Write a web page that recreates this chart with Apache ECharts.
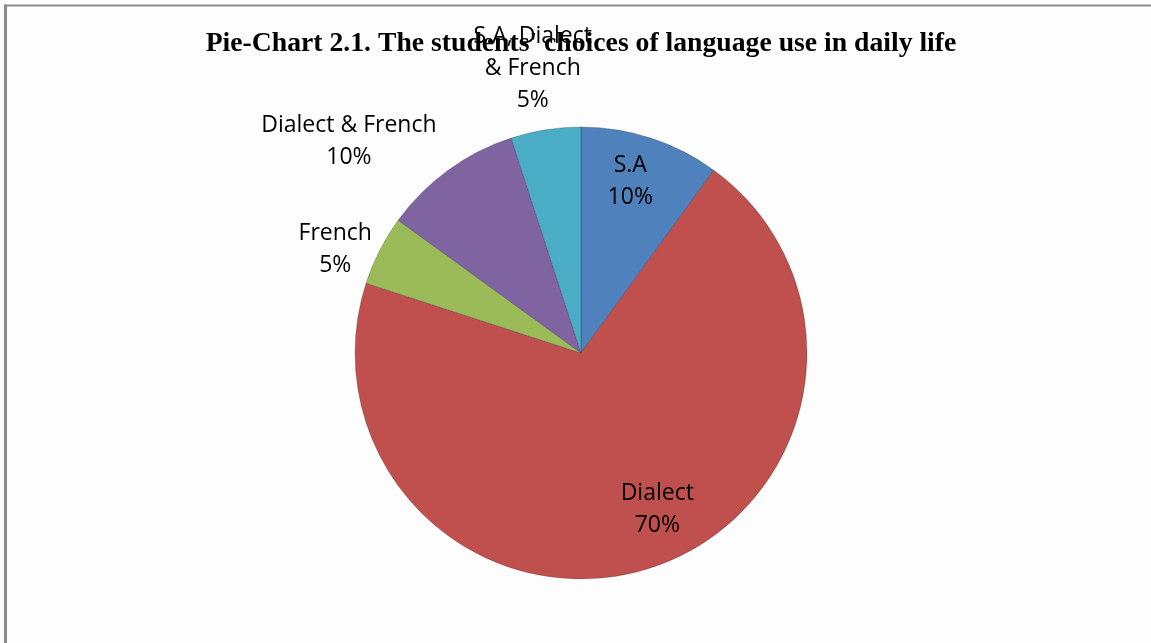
<!DOCTYPE html>
<html>
<head>
<meta charset="utf-8">
<title>Pie-Chart 2.1</title>
<script src="https://cdn.jsdelivr.net/npm/echarts@6/dist/echarts.min.js"></script>
<style>
  html, body { margin: 0; padding: 0; background: #fdfdfd; }
  #chart { width: 1151px; height: 643px; }
</style>
</head>
<body>
<div id="chart"></div>
<script>
// Languages the students use in daily life, with their share in percent
const categories = ['S.A', 'Dialect', 'French', 'Dialect & French', 'S.A, Dialect & French'];
const shares = [10, 70, 5, 10, 5];
const sliceColors = ['#4F81BD', '#C0504D', '#9BBB59', '#8064A2', '#4BACC6'];

// Where each label's text breaks onto a new line
const labelLines = {
  'S.A, Dialect & French': ['S.A, Dialect', '& French']
};

// Leader lengths (hidden lines) that place each label around the pie
const labelLeader = [
  { length: -46, length2: -34 },
  { length: -62, length2: -16 },
  { length: 3, length2: 0 },
  { length: 35, length2: -14 },
  { length: 62, length2: -61 }
];

const chart = echarts.init(document.getElementById('chart'), null, { renderer: 'canvas' });

const seriesData = categories.map((name, i) => ({
  name: name,
  value: shares[i],
  itemStyle: { color: sliceColors[i] },
  labelLine: { show: false, length: labelLeader[i].length, length2: labelLeader[i].length2 }
}));

chart.setOption({
  backgroundColor: '#fdfdfd',
  animation: false,
  title: {
    text: "Pie-Chart 2.1. The students' choices of language use in daily life",
    left: 581,
    top: 30,
    padding: 0,
    textAlign: 'center',
    textStyle: {
      fontFamily: 'Liberation Serif',
      fontWeight: 'bold',
      fontSize: 27.7,
      color: '#000'
    }
  },
  // Frame lines along the top and left edges
  graphic: [{
    type: 'line',
    shape: { x1: 4, y1: 5.5, x2: 1151, y2: 5.5 },
    style: { stroke: '#8c8c8c', lineWidth: 2 },
    silent: true
  }, {
    type: 'line',
    shape: { x1: 5.5, y1: 4.5, x2: 5.5, y2: 643 },
    style: { stroke: '#8c8c8c', lineWidth: 3 },
    silent: true
  }],
  series: [{
    type: 'pie',
    center: [581, 353],
    radius: [0, 226],
    startAngle: 90,
    clockwise: true,
    avoidLabelOverlap: false,
    itemStyle: { borderColor: 'rgba(30,30,30,0.25)', borderWidth: 1 },
    emphasis: { disabled: true },
    label: {
      show: true,
      position: 'outside',
      distanceToLabelLine: 5,
      formatter: p => {
        const lines = (labelLines[p.name] || [p.name]).slice();
        lines.push(Math.round(p.percent) + '%');
        return lines.map(l => '{t|' + l + '}').join('\n');
      },
      rich: {
        t: {
          fontFamily: 'Open Sans',
          fontSize: 23,
          lineHeight: 32,
          color: '#000',
          align: 'center'
        }
      }
    },
    data: seriesData
  }]
});
</script>
</body>
</html>
